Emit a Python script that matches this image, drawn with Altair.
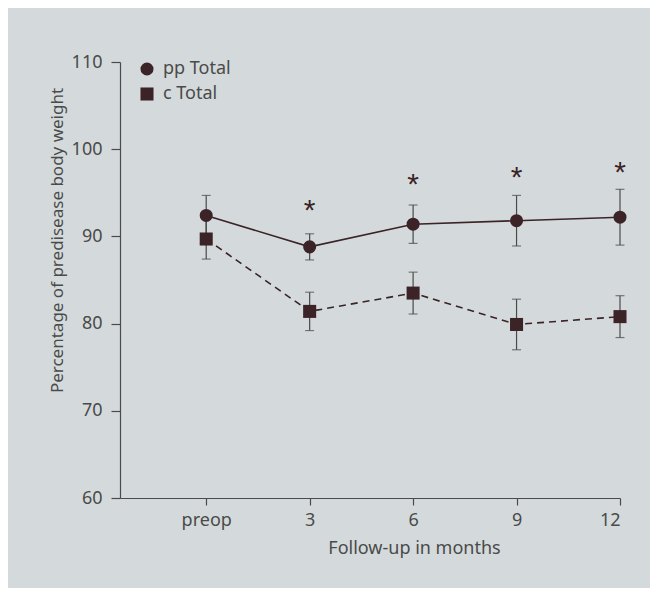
import altair as alt
import pandas as pd

months = [0, 3, 6, 9, 12]
tick_labels = ["preop", "3", "6", "9", "12"]
pp_mean = [92.4, 88.8, 91.4, 91.8, 92.2]
pp_err = [2.3, 1.5, 2.2, 2.9, 3.2]
c_mean = [89.7, 81.4, 83.5, 79.9, 80.8]
c_err = [2.3, 2.2, 2.4, 2.9, 2.4]
star_months = [3, 6, 9, 12]
star_y = [93.8, 96.8, 97.6, 98.2]
series_names = ["pp Total", "c Total"]

rows = []
for m, v, e in zip(months, pp_mean, pp_err):
    rows.append({"x": m, "y": v, "lo": v - e, "hi": v + e, "series": series_names[0]})
for m, v, e in zip(months, c_mean, c_err):
    rows.append({"x": m, "y": v, "lo": v - e, "hi": v + e, "series": series_names[1]})
df = pd.DataFrame(rows)
stars = pd.DataFrame({"x": star_months, "y": star_y, "t": ["*"] * len(star_months)})

INK = "#3b2327"
GREY = "#4a4a4a"
FONT = "Noto Sans"

label_expr = "{" + ",".join(f"'{m}':'{l}'" for m, l in zip(months, tick_labels)) + "}[datum.value]"

x = alt.X("x:Q", scale=alt.Scale(domain=[-2.5, 12], nice=False, zero=False),
          axis=alt.Axis(values=months, labelExpr=f"{label_expr}", title="Follow-up in months",
                        grid=False, tickSize=7, labelPadding=6, titlePadding=10,
                        titleX=294, labelFontSize=18, titleFontSize=18))
y = alt.Y("y:Q", scale=alt.Scale(domain=[60, 110], nice=False, zero=False),
          axis=alt.Axis(values=[60, 70, 80, 90, 100, 110], title="Percentage of predisease body weight",
                        grid=False, tickSize=9, labelPadding=9, titlePadding=5, titleY=178,
                        labelFontSize=18, titleFontSize=17))

base = alt.Chart(df)

line_pp = base.transform_filter(alt.datum.series == series_names[0]).mark_line(
    color=INK, strokeWidth=1.6).encode(x=x, y=y)
line_c = base.transform_filter(alt.datum.series == series_names[1]).mark_line(
    color=INK, strokeWidth=1.6, strokeDash=[7, 5]).encode(x="x:Q", y="y:Q")

bars = base.mark_rule(color=GREY, strokeWidth=1.2).encode(
    x="x:Q", y="lo:Q", y2="hi:Q")
caps_hi = base.mark_tick(color=GREY, orient="horizontal", size=9, thickness=1.2).encode(x="x:Q", y="hi:Q")
caps_lo = base.mark_tick(color=GREY, orient="horizontal", size=9, thickness=1.2).encode(x="x:Q", y="lo:Q")

points = base.mark_point(filled=True, opacity=1, color=INK, size=170).encode(
    x="x:Q", y="y:Q",
    shape=alt.Shape("series:N", scale=alt.Scale(domain=series_names, range=["circle", "square"]),
                    legend=alt.Legend(title=None, orient="none", legendX=18, legendY=-2,
                                      labelFontSize=18, symbolSize=170, symbolFillColor=INK,
                                      symbolStrokeColor=INK, symbolType="circle", rowPadding=5,
                                      labelColor=GREY, labelFont=FONT, labelOffset=7)),
)

star_layer = alt.Chart(stars).mark_text(text="*", fontSize=30, color=INK, baseline="middle",
                                        font="Liberation Sans", dy=8).encode(x="x:Q", y="y:Q")

chart = alt.layer(line_pp, line_c, bars, caps_hi, caps_lo, points, star_layer).properties(
    width=500, height=436,
    autosize=alt.AutoSizeParams(type="none"),
    padding={"left": 112, "top": 54, "right": 30, "bottom": 90},
    background="#d4dadb",
).configure_view(stroke=None).configure_axis(
    domainColor=GREY, tickColor=GREY, labelColor=GREY, titleColor=GREY,
    labelFont=FONT, titleFont=FONT, titleFontWeight="normal", domainWidth=1.2, tickWidth=1.2,
)

chart.save("out.html", embed_options={"renderer": "svg", "actions": False})
